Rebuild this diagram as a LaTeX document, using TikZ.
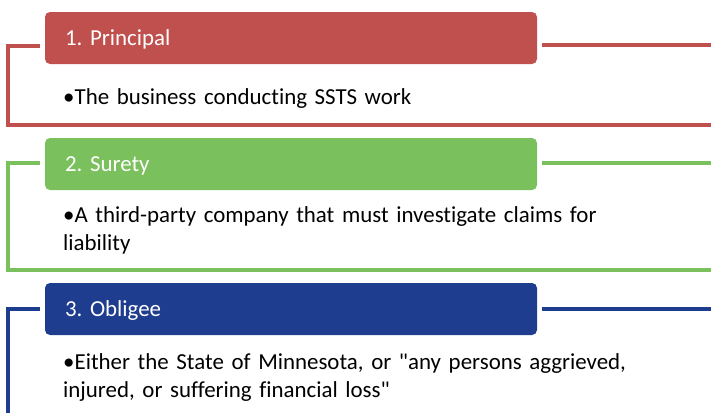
\documentclass[tikz,border=0pt]{standalone}
\usepackage{fontspec}
\setmainfont{Carlito}[Ligatures={TeXOff,CommonOff}]
\usetikzlibrary{positioning}

\definecolor{bondred}{HTML}{C0504D}
\definecolor{bondgreen}{HTML}{7AC05C}
\definecolor{bondblue}{HTML}{1F3D8F}

\begin{document}
\frenchspacing
\begin{tikzpicture}[x=1pt,y=-1pt]

        \useasboundingbox (0,0) rectangle (711,413);

        % header bars and the bullet texts under them
        \tikzset{
            header/.style={fill=#1, text=white, rounded corners=5pt,
                minimum width=492pt, minimum height=52pt,
                text width=452pt, inner xsep=20pt, align=left,
                text height=15pt, text depth=0pt,
                font=\fontsize{22.9}{28}\selectfont},
            item/.style={anchor=base west, inner sep=0pt,
                text width=610pt, align=left,
                font=\fontsize{22.9}{28}\selectfont}
        }

        \node[header=bondred] (H1) at (291,38) {1. Principal};
        \node[header=bondgreen] (H2) at (291,164) {2. Surety};
        \node[header=bondblue] (H3) at (291,309) {3. Obligee};

        \node[item] (T1) at (63,104)
        {•The business conducting SSTS work};
        \node[item] (T2) at (63,222)
        {\leavevmode\hangindent=11pt\hangafter=1
         •A third-party company that must investigate claims for\\liability};
        \node[item] (T3) at (63,369)
        {\leavevmode\hangindent=11pt\hangafter=1
         •Either the State of Minnesota, or "any persons aggrieved,\\injured, or suffering financial loss"};

        % open frames round each part
        \begin{scope}[line width=4.8pt]
            \draw[bondred] (40,46) -- (8,46) -- (8,125) -- (711,125);
            \draw[bondred] (542,45) -- (711,45);
            \draw[bondgreen] (40,163) -- (8,163) -- (8,270) -- (711,270);
            \draw[bondgreen] (542,163) -- (711,163);
            \draw[bondblue] (40,309) -- (8,309) -- (8,413);
            \draw[bondblue] (542,309) -- (711,309);
        \end{scope}

\end{tikzpicture}
\end{document}
